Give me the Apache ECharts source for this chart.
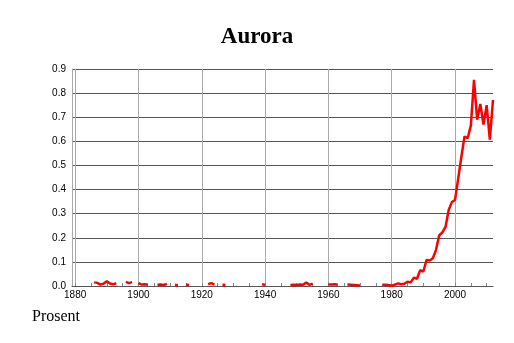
<!DOCTYPE html>
<html>
<head>
<meta charset="utf-8">
<script src="https://cdn.jsdelivr.net/npm/echarts@6/dist/echarts.min.js"></script>
<style>
html,body{margin:0;padding:0;background:#fff;}
#chart{width:514px;height:343px;}
</style>
</head>
<body>
<div id="chart"></div>
<script>
const titleText = 'Aurora';
const yAxisName = 'Prosent';
const firstYear = 1879;
const lastYear = 2012;
const yTicks = [0, 0.1, 0.2, 0.3, 0.4, 0.5, 0.6, 0.7, 0.8, 0.9];
// one value per year from 1879 to 2012 (null = no data)
const values = [
  null,
  null, null, null, null, null, null, 0.015, 0.013, 0.006, 0.010,
  0.020, 0.010, 0.007, 0.012, null, null, 0.017, 0.012, 0.016, null,
  0.012, 0.006, 0.007, 0.005, null, null, 0.005, 0.006, 0.004, 0.009,
  null, null, 0.003, null, null, 0.005, 0.004, null, null, null,
  null, null, 0.008, 0.012, 0.006, null, null, 0.004, null, null,
  null, null, null, null, null, null, null, null, null, 0.008,
  0.004, null, null, null, null, null, null, null, 0.004, 0.005,
  0.004, 0.006, 0.005, 0.015, 0.005, 0.010, null, null, null, null,
  0.006, 0.006, 0.007, 0.005, null, null, 0.006, 0.005, 0.004, 0.003,
  0.002, null, null, null, null, null, null, 0.005, 0.005, 0.004,
  0.001, 0.006, 0.011, 0.007, 0.009, 0.018, 0.015, 0.035, 0.030, 0.066,
  0.060, 0.108, 0.106, 0.115, 0.150, 0.210, 0.222, 0.245, 0.315, 0.348,
  0.357, 0.445, 0.535, 0.620, 0.613, 0.665, 0.855, 0.690, 0.755, 0.670,
  0.750, 0.607, 0.772
];

const years = [];
for (let y = firstYear; y <= lastYear; y++) years.push(String(y));

const seriesData = values.map((v, i) => {
  if (v === null) return null;
  const prev = i > 0 ? values[i - 1] : null;
  const next = i < values.length - 1 ? values[i + 1] : null;
  if (prev === null && next === null) {
    return { value: v, symbolSize: 3 };
  }
  return v;
});

const chart = echarts.init(document.getElementById('chart'), null, { renderer: 'canvas' });
chart.setOption({
  animation: false,
  backgroundColor: '#fff',
  title: {
    text: titleText,
    left: 'center',
    top: 21,
    textStyle: {
      fontFamily: '"Liberation Serif", serif',
      fontWeight: 'bold',
      fontSize: 23,
      color: '#000'
    }
  },
  graphic: [{
    type: 'text',
    left: 32,
    top: 309,
    style: {
      text: yAxisName,
      font: '16px "Liberation Serif", serif',
      fill: '#000'
    }
  }],
  grid: { left: 72, right: 21, top: 69, bottom: 57, containLabel: false },
  xAxis: {
    type: 'category',
    data: years,
    boundaryGap: false,
    axisLine: { show: true, lineStyle: { color: '#555', width: 1 } },
    axisTick: {
      show: true,
      inside: true,
      length: 3,
      interval: (idx, val) => Number(val) % 5 === 0,
      lineStyle: { color: '#888' }
    },
    axisLabel: {
      interval: (idx, val) => Number(val) % 20 === 0,
      fontFamily: '"Liberation Sans", Arial, sans-serif',
      fontSize: 10,
      color: '#000',
      margin: 4
    },
    splitLine: {
      show: true,
      interval: (idx, val) => Number(val) % 20 === 0,
      lineStyle: { color: '#aaa', width: 1 }
    }
  },
  yAxis: {
    type: 'value',
    min: yTicks[0],
    max: yTicks[yTicks.length - 1],
    interval: 0.1,
    axisLine: { show: true, lineStyle: { color: '#aaa' } },
    axisTick: { show: false },
    axisLabel: {
      formatter: v => Number(v).toFixed(1),
      fontFamily: '"Liberation Sans", Arial, sans-serif',
      fontSize: 10,
      color: '#000',
      margin: 6
    },
    splitLine: { show: true, lineStyle: { color: '#555', width: 1 } }
  },
  series: [{
    type: 'line',
    data: seriesData,
    connectNulls: false,
    showSymbol: true,
    showAllSymbol: true,
    symbol: 'rect',
    symbolSize: 0,
    itemStyle: { color: '#ff0000' },
    lineStyle: { color: '#ff0000', width: 2.5 },
    emphasis: { disabled: true }
  }]
});
</script>
</body>
</html>
